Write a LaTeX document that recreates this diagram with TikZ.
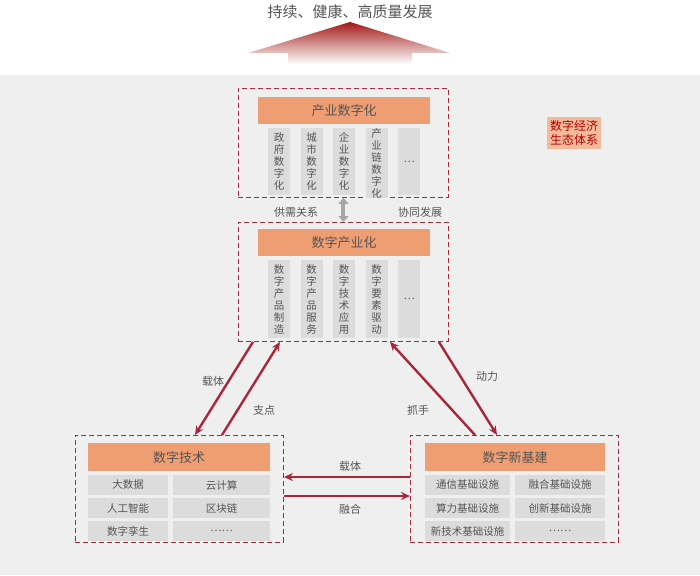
\documentclass[tikz,border=0pt]{standalone}
\usepackage{fontspec}
\setmainfont{Noto Sans CJK SC}
\usetikzlibrary{arrows.meta,positioning}
\definecolor{bggray}{HTML}{EFEFEF}
\definecolor{cellgray}{HTML}{DCDCDC}
\definecolor{headorange}{HTML}{EE9E72}
\definecolor{darkred}{HTML}{A8283A}
\definecolor{txtgray}{HTML}{555555}
\tikzset{
  dashbox/.style={draw=darkred,dashed,dash pattern=on 5pt off 3pt,line width=0.9pt},
  header/.style={fill=headorange,text=txtgray,font=\fontsize{13}{13}\selectfont,anchor=north west,inner sep=0pt},
  vcell/.style={fill=cellgray,text=txtgray,font=\fontsize{10.5}{12}\selectfont,align=center,anchor=north west,inner sep=0pt,minimum width=22pt,minimum height=67pt},
  hcell/.style={fill=cellgray,text=txtgray,font=\fontsize{10.5}{12}\selectfont,inner sep=0pt,minimum height=20pt},
  redarrow/.style={draw=darkred,line width=2.4pt,-{Stealth[length=9pt,width=8pt]}},
  lbl/.style={text=txtgray,font=\fontsize{11}{11}\selectfont}
}
\begin{document}
\begin{tikzpicture}[x=1pt,y=-1pt]
\useasboundingbox (0,0) rectangle (700,575);
\fill[white] (0,0) rectangle (700,575);
\fill[bggray] (0,75) rectangle (700,575);
% goal on top
\node[lbl,font=\fontsize{15}{15}\selectfont] (goal) at (350,12) {持续、健康、高质量发展};
\shade[top color=red!60!black!90,bottom color=white,shading angle=0]
  (248,53) -- (350,22) -- (450,53) -- (412,53) -- (412,64) -- (288,64) -- (288,53) -- cycle;
% ecosystem tag
\node[fill=headorange!70,text=red!70!black,font=\fontsize{12}{14}\selectfont,align=center,inner sep=3pt] (eco) at (574,133) {数字经济\\生态体系};
% industry digitalisation
\node[dashbox,minimum width=210pt,minimum height=109pt,anchor=north west] (topbox) at (238,88) {};
\node[header,minimum width=172pt,minimum height=27pt] (hd1) at (258,97) {产业数字化};
\foreach \t [count=\i from 0] in {政\\府\\数\\字\\化,城\\市\\数\\字\\化,企\\业\\数\\字\\化,产\\业\\链\\数\\字\\化,…}
  \node[vcell] (a\i) at (268+\i*32.5,128) {\t};
% digital industrialisation
\node[dashbox,minimum width=210pt,minimum height=119pt,anchor=north west] (midbox) at (238,222) {};
\node[header,minimum width=172pt,minimum height=27pt] (hd2) at (258,229) {数字产业化};
\foreach \t [count=\i from 0] in {数\\字\\产\\品\\制\\造,数\\字\\产\\品\\服\\务,数\\字\\技\\术\\应\\用,数\\字\\要\\素\\驱\\动,…}
  \node[vcell,minimum height=78pt] (b\i) at (268+\i*32.5,260) {\t};
\draw[draw=gray!70,line width=4pt,{Triangle[length=6pt,width=10pt]}-{Triangle[length=6pt,width=10pt]}] (topbox.south) -- (midbox.north);
\node[lbl] (sup) at (296,212) {供需关系};
\node[lbl] (co) at (420,212) {协同发展};
% digital technology
\node[dashbox,minimum width=208pt,minimum height=107pt,anchor=north west] (tech) at (75,435) {};
\node[header,minimum width=182pt,minimum height=28pt] (hd3) at (88,443) {数字技术};
\foreach \l/\r [count=\i from 0] in {大数据/云计算,人工智能/区块链,数字孪生/……}{
  \node[hcell,minimum width=80pt] (tl\i) at (128,485+\i*23) {\l};
  \node[hcell,minimum width=97pt] (tr\i) at (221.5,485+\i*23) {\r};
}
% new infrastructure
\node[dashbox,minimum width=208pt,minimum height=107pt,anchor=north west] (infra) at (410,435) {};
\node[header,minimum width=180pt,minimum height=28pt] (hd4) at (425,443) {数字新基建};
\foreach \l/\r [count=\i from 0] in {通信基础设施/融合基础设施,算力基础设施/创新基础设施,新技术基础设施/……}{
  \node[hcell,minimum width=85pt] (il\i) at (467.5,485+\i*23) {\l};
  \node[hcell,minimum width=90pt] (ir\i) at (560,485+\i*23) {\r};
}
% connectors
\draw[redarrow] (infra.west |- 0,477) -- (tech.east |- 0,477);
\draw[redarrow] (tech.east |- 0,496) -- (infra.west |- 0,496);
\node[lbl] (l1) at (350,466) {载体};
\node[lbl] (l2) at (350,509) {融合};
\draw[redarrow] ([xshift=15pt]midbox.south west) -- ([xshift=120pt]tech.north west);
\draw[redarrow] ([xshift=147pt]tech.north west) -- ([xshift=42pt]midbox.south west);
\node[lbl] (l3) at (213,381) {载体};
\node[lbl] (l4) at (264,410) {支点};
\draw[redarrow] ([xshift=65pt]infra.north west) -- ([xshift=-59pt]midbox.south east);
\draw[redarrow] ([xshift=-10pt]midbox.south east) -- ([xshift=87pt]infra.north west);
\node[lbl] (l5) at (418,410) {抓手};
\node[lbl] (l6) at (487,376) {动力};
\end{tikzpicture}
\end{document}
